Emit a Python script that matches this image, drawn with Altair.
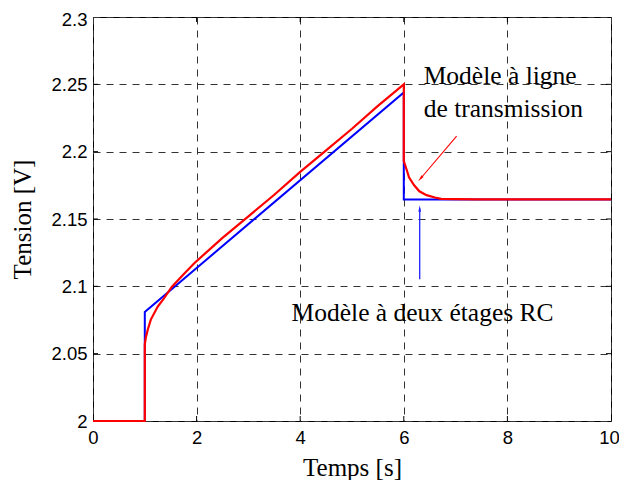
import altair as alt
import pandas as pd

# ---- data ----
blue_t = [0, 1, 1, 6, 6, 10]
blue_v = [2.0, 2.0, 2.081, 2.244, 2.1645, 2.1645]

red_t = [0, 1, 1, 1.02, 1.058, 1.116, 1.25, 1.37, 1.52, 1.75, 1.95, 2.5, 3, 3.5, 4,
         4.5, 5, 5.5, 6, 6, 6.06, 6.1, 6.2, 6.3, 6.44, 6.6, 6.72, 7, 7.4, 10]
red_v = [2.0, 2.0, 2.057, 2.062, 2.068, 2.0753, 2.085, 2.091, 2.0995, 2.109, 2.117,
         2.136, 2.152, 2.168, 2.185, 2.201, 2.217, 2.234, 2.250, 2.193, 2.186, 2.181,
         2.175, 2.1706, 2.1677, 2.166, 2.165, 2.1648, 2.1645, 2.1645]

x_ticks = [0, 2, 4, 6, 8, 10]
y_ticks = [2.0, 2.05, 2.1, 2.15, 2.2, 2.25, 2.3]
x_inner = [2, 4, 6, 8]
y_inner = [2.05, 2.1, 2.15, 2.2, 2.25]

labels_text = ["Modèle à ligne", "de transmission", "Modèle à deux étages RC"]
labels_t = [6.384, 6.384, 3.833]
labels_v = [2.2499, 2.2261, 2.0741]

red_arrow_t = [7.02, 6.32]
red_arrow_v = [2.2115, 2.1799]
blue_arrow_t = [6.307, 6.307]
blue_arrow_v = [2.1053, 2.1578]

W, H = 518, 404

rows = []
for i, (t, v) in enumerate(zip(blue_t, blue_v)):
    rows.append({"t": t, "v": v, "s": "RC", "o": i})
for i, (t, v) in enumerate(zip(red_t, red_v)):
    rows.append({"t": t, "v": v, "s": "TL", "o": i})
df = pd.DataFrame(rows)

xs = alt.Scale(domain=[0, 10], nice=False, zero=False)
ys = alt.Scale(domain=[2.0, 2.3], nice=False, zero=False)

xaxis = alt.Axis(values=x_ticks, title="Temps [s]", grid=True, gridDash=[7, 6],
                 gridColor="#333", gridWidth=1, domain=False, ticks=False, tickSize=0,
                 labelFont="Liberation Sans", labelFontSize=18.5, labelColor="black",
                 labelPadding=7, labelExpr="datum.value", labelFlush=False,
                 labelOffset=alt.expr("datum.value == 10 ? -2 : 0"),
                 titleFont="Liberation Serif", titleFontSize=25, titleFontWeight="normal",
                 titleColor="black", titleBaseline="alphabetic", titleY=54)
yaxis = alt.Axis(values=y_ticks, title="Tension [V]", grid=True, gridDash=[7, 6],
                 gridColor="#333", gridWidth=1, domain=False, ticks=False, tickSize=0,
                 labelFont="Liberation Sans", labelFontSize=18.5, labelColor="black",
                 labelPadding=6, labelExpr="datum.value", labelFlush=False,
                 labelOffset=alt.expr("datum.value > 2.29 ? 2 : 0"),
                 titleFont="Liberation Serif", titleFontSize=25, titleFontWeight="normal",
                 titleColor="black", titleBaseline="alphabetic", titleX=-63, titleAngle=270)

base = alt.Chart(df)
blue = base.transform_filter(alt.datum.s == "RC").mark_line(color="#0000ff", strokeWidth=2).encode(
    x=alt.X("t:Q", scale=xs, axis=xaxis),
    y=alt.Y("v:Q", scale=ys, axis=yaxis),
    order="o:Q",
)
red = base.transform_filter(alt.datum.s == "TL").mark_line(color="#ff0000", strokeWidth=2.2).encode(
    x="t:Q", y="v:Q", order="o:Q"
)

# inward ticks on all four sides
xt = pd.DataFrame({"t": x_inner})
yt = pd.DataFrame({"v": y_inner})
tick_b = alt.Chart(xt).mark_rule(color="black", strokeWidth=1).encode(
    x="t:Q", y=alt.value(H), y2=alt.value(H - 5))
tick_t = alt.Chart(xt).mark_rule(color="black", strokeWidth=1).encode(
    x="t:Q", y=alt.value(0), y2=alt.value(5))
tick_l = alt.Chart(yt).mark_rule(color="black", strokeWidth=1).encode(
    y="v:Q", x=alt.value(0), x2=alt.value(5))
tick_r = alt.Chart(yt).mark_rule(color="black", strokeWidth=1).encode(
    y="v:Q", x=alt.value(W), x2=alt.value(W - 5))

# annotations
lab_df = pd.DataFrame({"t": labels_t, "v": labels_v, "txt": labels_text})
labels = alt.Chart(lab_df).mark_text(font="Liberation Serif", fontSize=25.5, align="left",
                                     baseline="alphabetic", color="black").encode(
    x="t:Q", y="v:Q", text="txt:N")

ra = pd.DataFrame({"t": red_arrow_t, "v": red_arrow_v, "o": [0, 1]})
ba = pd.DataFrame({"t": blue_arrow_t, "v": blue_arrow_v, "o": [0, 1]})
red_arrow = alt.Chart(ra).mark_line(color="#ff0000", strokeWidth=1.1).encode(x="t:Q", y="v:Q", order="o:Q")
blue_arrow = alt.Chart(ba).mark_line(color="#2020ff", strokeWidth=1.3).encode(x="t:Q", y="v:Q", order="o:Q")
head_shape = "M0,-1L0.4,1L-0.4,1Z"
red_head = alt.Chart(ra.iloc[[1]]).mark_point(shape=head_shape, filled=True, color="#ff0000",
                                            size=45, angle=220, opacity=1).encode(x="t:Q", y="v:Q")
blue_head = alt.Chart(ba.iloc[[1]]).mark_point(shape=head_shape, filled=True, color="#2020ff",
                                             size=45, angle=0, opacity=1).encode(x="t:Q", y="v:Q")

chart = alt.layer(blue, red, tick_b, tick_t, tick_l, tick_r, labels,
                  red_arrow, blue_arrow, red_head, blue_head).properties(
    width=W, height=H,
    autosize=alt.AutoSizeParams(type="none"),
    padding={"left": 85, "top": 9, "right": 8, "bottom": 59},
    background="white",
).configure_view(stroke="black", strokeWidth=1)

chart.save("out.html", embed_options={"renderer": "svg", "actions": False})
